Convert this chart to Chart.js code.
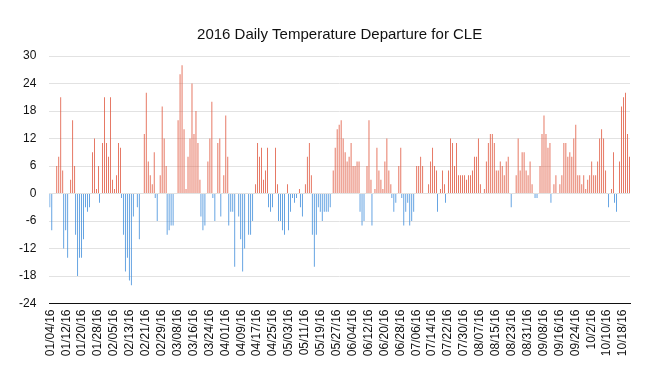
<!DOCTYPE html>
<html>
<head>
<meta charset="utf-8">
<script src="https://cdn.jsdelivr.net/npm/chart.js@4"></script>
<style>
  body { margin: 0; background: #fff; }
  canvas { display: block; }
</style>
</head>
<body>
<canvas id="myChart" width="657" height="390"></canvas>
<script>
// daily departure from normal (deg F), starting 01/04/16
const departures = [
  -3, -8, 0, 6, 8, 21, 5, -12, -8, -14,
  3, 16, 6, -9, -18, -14, -14, -10, -3, -4,
  -3, 9, 12, 1, 6, -2, 11, 21, 11, 8,
  21, 3, 1, 4, 11, 10, -1, -9, -17, -14,
  -19, -20, -5, 0, -3, -10, 0, 13, 22, 7,
  4, 2, 9, -1, -6, 4, 19, 12, 6, -9,
  -8, -7, -7, 0, 16, 26, 28, 14, 1, 8,
  12, 24, 13, 18, 11, 3, -5, -8, -7, 7,
  12, 20, -1, -6, 11, 12, -5, 4, 17, 8,
  -7, -4, -4, -16, 0, -5, -10, -17, -12, 0,
  -9, -9, -6, 2, 11, 8, 10, 3, 5, 10,
  -3, -4, -3, 10, 2, -6, -6, -8, -9, 2,
  -8, -4, -1, -2, -1, 1, -3, -5, 2, 8,
  11, 4, -9, -16, -9, -3, -4, -6, -4, -4,
  -4, -3, 5, 10, 14, 15, 16, 12, 9, 7,
  8, 11, 6, 6, 7, 7, -4, -7, -6, 6,
  16, 3, -7, 1, 10, 5, 3, 1, 7, 12,
  5, 2, -1, -4, -2, 6, 10, -1, -7, -4,
  -2, -7, -6, -4, 6, 6, 8, 6, 0, 0,
  2, 7, 10, 6, 5, -4, 1, 5, 2, -2,
  5, 12, 11, 6, 11, 4, 4, 4, 4, 3,
  4, 4, 5, 8, 8, 12, 2, 0, 1, 7,
  11, 13, 13, 11, 5, 5, 7, 6, 4, 7,
  8, 0, -3, 0, 4, 12, 5, 9, 9, 5,
  4, 7, 2, 0, -1, -1, 6, 13, 17, 13,
  10, 11, -2, 2, 4, 0, 2, 4, 11, 11,
  8, 9, 8, 12, 15, 4, 4, 2, 4, 1,
  3, 4, 7, 4, 4, 7, 12, 14, 12, 5,
  0, -3, 1, 9, -2, -4, 7, 19, 21, 22,
  13, 8
];

const tickLabels = [
  '01/04/16', '01/12/16', '01/20/16', '01/28/16', '02/05/16', '02/13/16',
  '02/21/16', '02/29/16', '03/08/16', '03/16/16', '03/24/16', '04/01/16',
  '04/09/16', '04/17/16', '04/25/16', '05/03/16', '05/11/16', '05/19/16',
  '05/27/16', '06/04/16', '06/12/16', '06/20/16', '06/28/16', '07/06/16',
  '07/14/16', '07/22/16', '07/30/16', '08/07/16', '08/15/16', '08/23/16',
  '08/31/16', '09/08/16', '09/16/16', '09/24/16', '10/2/16', '10/10/16',
  '10/18/16'
];
const labelEvery = 8;

// one category per day
const days = [];
for (let i = 0; i < departures.length; i++) {
  const d = new Date(2016, 0, 4 + i);
  days.push((d.getMonth() + 1) + '/' + d.getDate() + '/16');
}

const below = departures.map(v => v < 0 ? v : null);
const above = departures.map(v => v > 0 ? v : null);

const font = "'Liberation Sans', Arial, Helvetica, sans-serif";

const ctx = document.getElementById('myChart').getContext('2d');
new Chart(ctx, {
  type: 'bar',
  data: {
    labels: days,
    datasets: [
      { label: 'Below', data: below, backgroundColor: '#3f8ddb', borderWidth: 0 },
      { label: 'Above', data: above, backgroundColor: '#e0573e', borderWidth: 0 }
    ]
  },
  options: {
    responsive: false,
    animation: false,
    devicePixelRatio: 1,
    layout: { padding: { left: 0, right: 27, top: 0, bottom: 0 } },
    datasets: {
      bar: { categoryPercentage: 1.0, barPercentage: 0.8 }
    },
    plugins: {
      legend: { display: false },
      tooltip: { enabled: false },
      title: {
        display: true,
        fullSize: false,
        text: '2016 Daily Temperature Departure for CLE',
        color: '#111',
        font: { family: font, size: 15, weight: 'normal', lineHeight: 1.2 },
        padding: { top: 25.5, bottom: 12.5 }
      }
    },
    scales: {
      x: {
        grid: { display: false, drawTicks: false },
        border: { display: true, color: '#111', width: 1 },
        afterFit: s => { s.height = 86.5; },
        ticks: {
          autoSkip: false,
          maxRotation: 90,
          minRotation: 90,
          padding: 6,
          color: '#111',
          font: { family: font, size: 12 },
          callback: (v, i) => i % labelEvery === 0 ? tickLabels[i / labelEvery] : ''
        }
      },
      y: {
        min: -24,
        max: 30,
        afterFit: s => { s.width = 49.3; },
        grid: { color: '#e2e2e2', drawTicks: false },
        border: { display: false },
        ticks: {
          stepSize: 6,
          padding: 13,
          color: '#111',
          font: { family: font, size: 12 }
        }
      }
    }
  }
});
</script>
</body>
</html>
